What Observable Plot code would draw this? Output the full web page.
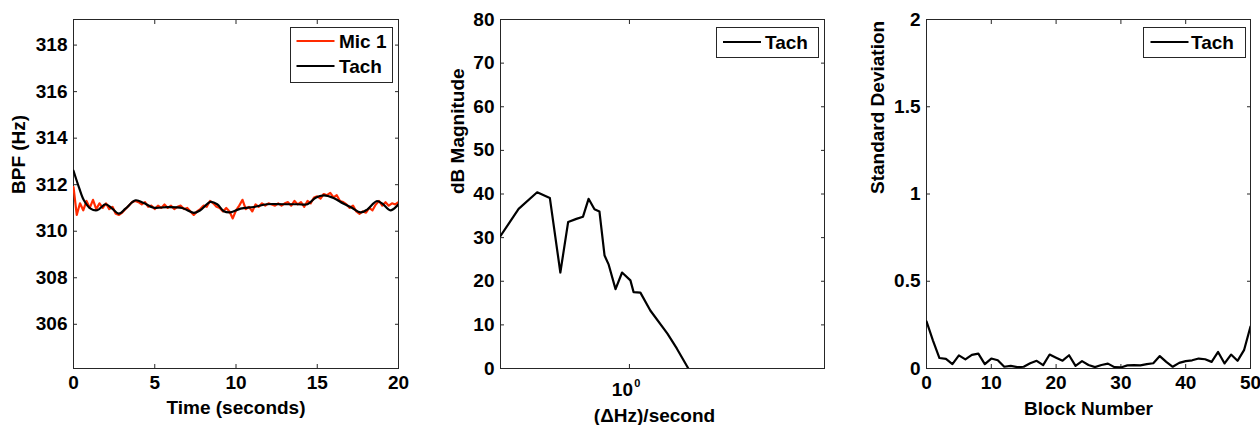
<!DOCTYPE html>
<html>
<head>
<meta charset="utf-8">
<script src="https://cdn.jsdelivr.net/npm/d3@7"></script>
<script src="https://cdn.jsdelivr.net/npm/@observablehq/plot@0.6"></script>
<style>
  html, body { margin: 0; padding: 0; background: #fff; }
  #wrap { position: relative; width: 1260px; height: 425px; overflow: hidden; background: #fff; }
  .panel { position: absolute; top: 0; width: 420px; height: 425px; overflow: hidden; }
  #overlay { position: absolute; left: 0; top: 0; pointer-events: none; }
</style>
</head>
<body>
<div id="wrap">
  <div class="panel" id="p1" style="left:0px"></div>
  <div class="panel" id="p2" style="left:420px"></div>
  <div class="panel" id="p3" style="left:840px"></div>
</div>
<script>
// ---------- DATA ----------
// Panel 1: blade-pass frequency vs time
const micTime = d3.range(0, 20.0001, 0.2).map(d => +d.toFixed(1));
const mic1 = [
  311.9, 310.7, 311.2, 310.9, 311.3, 311.0, 311.35, 310.95, 311.2, 311.0,
  311.2, 310.95, 311.05, 310.75, 310.7, 310.8, 310.95, 311.1, 311.25, 311.3,
  311.25, 311.15, 311.25, 311.05, 311.1, 310.95, 311.1, 311.0, 311.15, 311.0,
  311.1, 310.95, 311.05, 311.1, 310.95, 311.0, 310.85, 310.7, 310.85, 310.95,
  311.1, 311.05, 311.3, 311.2, 311.05, 311.0, 310.85, 311.0, 310.85, 310.55,
  310.9, 311.1, 311.35, 310.95, 311.05, 310.85, 311.15, 311.05, 311.2, 311.1,
  311.2, 311.15, 311.1, 311.2, 311.1, 311.2, 311.25, 311.1, 311.3, 311.15,
  311.25, 311.05, 311.3, 311.2, 311.45, 311.5, 311.4, 311.6, 311.55, 311.65,
  311.45, 311.55, 311.3, 311.25, 311.15, 311.0, 311.1, 310.85, 310.75, 310.85,
  310.8, 311.0, 310.9, 311.15, 311.3, 311.1, 311.25, 311.1, 311.2, 311.15,
  311.25
];
const tachTime = [0, 0.33, 0.64, 1.05, 1.46, 1.97, 2.38, 2.79, 3.2, 3.82, 4.33, 4.94, 5.76, 6.69, 7.4, 7.8, 8.43, 8.84, 9.25, 9.66, 10.28, 11.1, 11.9, 12.9, 13.8, 14.4, 14.9, 15.4, 16, 16.6, 17.15, 17.66, 18.07, 18.65, 19, 19.5, 20];
const tachBpf  = [312.6, 311.9, 311.33, 310.97, 310.9, 311.16, 310.97, 310.76, 310.97, 311.33, 311.21, 311.01, 311.04, 311.0, 310.79, 310.9, 311.26, 311.16, 310.86, 310.81, 310.97, 311.04, 311.16, 311.16, 311.16, 311.16, 311.44, 311.54, 311.43, 311.19, 311.0, 310.81, 310.93, 311.29, 311.19, 310.9, 311.16];
const p1XTicks = [0, 5, 10, 15, 20];
const p1YTicks = [306, 308, 310, 312, 314, 316, 318];

// Panel 2: spectrum of frequency fluctuation
const rate = [0.4, 0.455, 0.519, 0.568, 0.612, 0.647, 0.686, 0.719, 0.748, 0.780, 0.808, 0.838, 0.863, 0.906, 0.949, 1.007, 1.03, 1.081, 1.16, 1.31, 1.40, 1.52];
const dbMag = [30.4, 36.6, 40.4, 39.1, 22.0, 33.6, 34.3, 34.8, 38.9, 36.5, 36.0, 25.9, 23.8, 18.2, 22.0, 20.2, 17.5, 17.4, 13.3, 8.0, 4.6, 0];
const p2XTicks = [1];
const p2YTicks = [0, 10, 20, 30, 40, 50, 60, 70, 80];

// Panel 3: standard deviation per block
const blocks = d3.range(0, 51);
const stdDev = [
  0.27, 0.16, 0.06, 0.055, 0.025, 0.075, 0.052, 0.078, 0.085, 0.025,
  0.057, 0.047, 0.01, 0.015, 0.008, 0.01, 0.03, 0.044, 0.019, 0.08,
  0.062, 0.045, 0.076, 0.015, 0.042, 0.02, 0.008, 0.02, 0.028, 0.008,
  0.006, 0.018, 0.019, 0.018, 0.025, 0.03, 0.071, 0.038, 0.01, 0.032,
  0.042, 0.047, 0.057, 0.053, 0.038, 0.095, 0.029, 0.08, 0.044, 0.105,
  0.24
];
const p3XTicks = [0, 10, 20, 30, 40, 50];
const p3YTicks = [0, 0.5, 1, 1.5, 2];

// ---------- STYLE ----------
const FONT = '"Liberation Sans", Arial, Helvetica, sans-serif';
const INK = "#262626";
const FS = 19;
const baseStyle = {fontFamily: FONT, fontSize: FS + "px", fontWeight: "bold", background: "transparent", color: "#000", overflow: "visible"};

function boxMarks(xTicks, yTicks, xFmt, yFmt) {
  return [
    Plot.frame({stroke: INK, strokeWidth: 1}),
    Plot.axisX(xTicks, {anchor: "bottom", tickSize: -4, fill: "none", label: null, stroke: INK}),
    Plot.axisX(xTicks, {anchor: "top", tickSize: -4, fill: "none", label: null, stroke: INK}),
    Plot.axisY(yTicks, {anchor: "left", tickSize: -4, fill: "none", label: null, stroke: INK}),
    Plot.axisY(yTicks, {anchor: "right", tickSize: -4, fill: "none", label: null, stroke: INK}),
    Plot.axisY(yTicks, {anchor: "left", tickSize: 0, tickPadding: 6, label: null, tickFormat: yFmt, fill: "#000", fontSize: FS}),
    ...(xFmt === null ? [] : [Plot.axisX(xTicks, {anchor: "bottom", tickSize: 0, tickPadding: 7, label: null, tickFormat: xFmt, fill: "#000", fontSize: FS})])
  ];
}

// ---------- PANEL 1 ----------
const p1 = Plot.plot({
  width: 420, height: 425,
  marginLeft: 73, marginRight: 22, marginTop: 19, marginBottom: 57,
  style: baseStyle,
  x: {type: "linear", domain: [0, 20]},
  y: {type: "linear", domain: [304.1, 319.1]},
  marks: [
    ...boxMarks(p1XTicks, p1YTicks, d => String(d), d => String(d)),
    Plot.lineY(mic1, {x: micTime, stroke: "#ff2a00", strokeWidth: 2.2, clip: true}),
    Plot.lineY(tachBpf, {x: tachTime, stroke: "#000", strokeWidth: 2.2, curve: "catmull-rom", clip: true}),
    Plot.text(["Time (seconds)"], {frameAnchor: "bottom", dy: 39, lineAnchor: "middle", text: d => d, fill: "#000", fontSize: FS}),
    Plot.text(["BPF (Hz)"], {frameAnchor: "left", dx: -55, rotate: -90, lineAnchor: "middle", text: d => d, fill: "#000", fontSize: FS})
  ]
});
document.getElementById("p1").appendChild(p1);

// ---------- PANEL 2 ----------
const p2 = Plot.plot({
  width: 420, height: 425,
  marginLeft: 80, marginRight: 16, marginTop: 19, marginBottom: 57,
  style: baseStyle,
  x: {type: "log", domain: [0.4, 4]},
  y: {type: "linear", domain: [0, 80]},
  marks: [
    ...boxMarks(p2XTicks, p2YTicks, null, d => String(d)),
    Plot.text(p2XTicks, {x: d => d, frameAnchor: "bottom", dx: -7, dy: 21, lineAnchor: "middle", text: () => "10", fill: "#000", fontSize: FS}),
    Plot.text(p2XTicks, {x: d => d, frameAnchor: "bottom", dx: 8, dy: 15, lineAnchor: "middle", fontSize: 11, text: () => "0", fill: "#000"}),
    Plot.lineY(dbMag, {x: rate, stroke: "#000", strokeWidth: 2.2, clip: true}),
    Plot.text(["(\u0394Hz)/second"], {frameAnchor: "bottom", dx: -8, dy: 47, lineAnchor: "middle", text: d => d, fill: "#000", fontSize: FS}),
    Plot.text(["dB Magnitude"], {frameAnchor: "left", dx: -43, rotate: -90, lineAnchor: "middle", text: d => d, fill: "#000", fontSize: FS})
  ]
});
document.getElementById("p2").appendChild(p2);

// ---------- PANEL 3 ----------
const p3 = Plot.plot({
  width: 420, height: 425,
  marginLeft: 86, marginRight: 10, marginTop: 19, marginBottom: 57,
  style: baseStyle,
  x: {type: "linear", domain: [0, 50]},
  y: {type: "linear", domain: [0, 2]},
  marks: [
    ...boxMarks(p3XTicks, p3YTicks, d => String(d), d => String(d)),
    Plot.lineY(stdDev, {x: blocks, stroke: "#000", strokeWidth: 2.2, clip: true}),
    Plot.text(["Block Number"], {frameAnchor: "bottom", dy: 40, lineAnchor: "middle", text: d => d, fill: "#000", fontSize: FS}),
    Plot.text(["Standard Deviation"], {frameAnchor: "left", dx: -49, rotate: -90, lineAnchor: "middle", text: d => d, fill: "#000", fontSize: FS})
  ]
});
document.getElementById("p3").appendChild(p3);

// ---------- LEGENDS ----------
const legends = [
  {box: [290, 27, 102, 55], items: [{label: "Mic 1", color: "#ff2a00", y: 41}, {label: "Tach", color: "#000", y: 66}], lx: [296.5, 334.5], tx: 339},
  {box: [716, 27, 102, 30], items: [{label: "Tach", color: "#000", y: 42}], lx: [723, 761], tx: 765},
  {box: [1143, 27, 102, 30], items: [{label: "Tach", color: "#000", y: 42}], lx: [1150.5, 1188.5], tx: 1191}
];
const ov = d3.select("#wrap").append("svg")
  .attr("id", "overlay").attr("width", 1260).attr("height", 425)
  .style("font-family", FONT).style("font-size", FS + "px").style("font-weight", "bold");
for (const L of legends) {
  const [bx, by, bw, bh] = L.box;
  ov.append("rect").attr("x", bx + 0.5).attr("y", by + 0.5).attr("width", bw).attr("height", bh)
    .attr("fill", "#fff").attr("stroke", INK).attr("stroke-width", 1);
  for (const it of L.items) {
    ov.append("line").attr("x1", L.lx[0]).attr("x2", L.lx[1]).attr("y1", it.y).attr("y2", it.y)
      .attr("stroke", it.color).attr("stroke-width", 2);
    ov.append("text").attr("x", L.tx).attr("y", it.y).attr("dy", "0.36em").attr("fill", "#000").text(it.label);
  }
}
</script>
</body>
</html>
